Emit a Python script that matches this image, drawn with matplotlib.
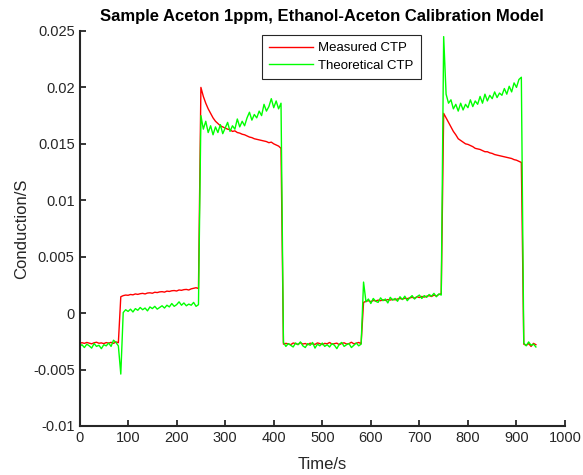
import numpy as np
import matplotlib
matplotlib.use('Agg')
import matplotlib.pyplot as plt

plt.rcParams['font.family'] = ['Liberation Sans', 'DejaVu Sans']

# sample interval in s, values below in units of 1e-3 S
dt = 5

red_low1 = [-2.70, -2.62, -2.68, -2.60, -2.66, -2.72, -2.63, -2.58, -2.67, -2.64,
            -2.70, -2.61, -2.66, -2.59, -2.68, -2.55, -2.62]
green_low1 = [-2.95, -2.80, -3.05, -2.75, -2.90, -3.10, -2.70, -2.95, -2.85, -3.15,
              -2.80, -2.90, -2.65, -2.95, -2.40, -2.60, -2.90]

red_step1 = [1.45, 1.55, 1.60, 1.58, 1.65, 1.62, 1.70, 1.66, 1.72, 1.75,
             1.70, 1.78, 1.80, 1.76, 1.85, 1.82, 1.88, 1.90, 1.86, 1.95,
             1.92, 1.98, 2.00, 1.96, 2.05, 2.02, 2.08, 2.10, 2.05, 2.15,
             2.20, 2.25, 2.18]
green_step1 = [-5.40, 0.05, 0.30, 0.15, 0.35, 0.10, 0.40, 0.25, 0.50, 0.30,
               0.45, 0.20, 0.55, 0.40, 0.60, 0.35, 0.50, 0.65, 0.45, 0.70,
               0.55, 0.85, 0.60, 0.75, 1.00, 0.70, 0.90, 0.65, 0.80, 0.70,
               0.95, 0.60, 0.75]

red_high1 = [20.0, 19.2, 18.6, 18.1, 17.7, 17.3, 17.0, 16.8, 16.6, 16.5,
             16.4, 16.3, 16.25, 16.1, 16.15, 16.0, 15.95, 15.85, 15.8, 15.7,
             15.6, 15.55, 15.45, 15.4, 15.35, 15.3, 15.25, 15.2, 15.1, 15.15,
             15.0, 14.9, 14.8, 14.6]
green_high1 = [17.5, 16.3, 17.0, 16.0, 16.6, 15.8, 16.5, 16.0, 16.7, 15.9,
               16.4, 16.9, 16.1, 16.6, 16.3, 17.2, 16.5, 17.0, 16.6, 17.3,
               17.8, 17.1, 17.6, 17.3, 17.9, 17.5, 18.5, 17.9, 18.3, 19.0,
               18.2, 18.8, 18.1, 18.6]

red_low2 = [-2.75, -2.68, -2.72, -2.80, -2.65, -2.70, -2.78, -2.62, -2.74, -2.69,
            -2.81, -2.66, -2.73, -2.77, -2.64, -2.70, -2.79, -2.68, -2.72, -2.60,
            -2.75, -2.71, -2.66, -2.80, -2.69, -2.63, -2.74, -2.70, -2.58, -2.72,
            -2.67, -2.60, -2.70]
green_low2 = [-2.60, -2.95, -2.70, -2.85, -3.00, -2.65, -2.80, -2.55, -2.90, -3.05,
              -2.70, -2.85, -2.60, -3.10, -2.75, -2.90, -2.65, -2.95, -2.80, -3.00,
              -2.70, -2.85, -3.15, -2.75, -2.60, -2.95, -2.80, -2.70, -3.05, -2.85,
              -2.65, -2.90, -2.75]

red_step2 = [0.95, 1.05, 1.10, 1.02, 1.12, 1.08, 1.15, 1.10, 1.18, 1.12,
             1.20, 1.16, 1.22, 1.18, 1.25, 1.30, 1.24, 1.32, 1.28, 1.35,
             1.40, 1.33, 1.45, 1.38, 1.48, 1.42, 1.50, 1.55, 1.47, 1.60,
             1.52, 1.65, 1.72]
green_step2 = [2.75, 1.00, 1.25, 0.85, 1.30, 1.05, 0.95, 1.35, 1.10, 1.25,
               0.90, 1.40, 1.15, 1.30, 1.05, 1.45, 1.20, 1.50, 1.10, 1.35,
               1.55, 1.25, 1.45, 1.60, 1.30, 1.55, 1.40, 1.65, 1.50, 1.75,
               1.45, 1.70, 1.60]

red_high2 = [17.7, 17.3, 16.9, 16.5, 16.1, 15.8, 15.45, 15.3, 15.15, 15.0,
             14.95, 14.85, 14.75, 14.6, 14.55, 14.5, 14.4, 14.3, 14.3, 14.2,
             14.15, 14.05, 14.0, 13.95, 13.9, 13.85, 13.8, 13.75, 13.7, 13.6,
             13.55, 13.45, 13.35]
green_high2 = [24.5, 19.4, 18.6, 18.9, 18.1, 18.5, 17.9, 18.6, 18.0, 18.5,
               18.2, 18.9, 18.3, 18.8, 18.5, 19.2, 18.6, 19.4, 18.8, 19.3,
               19.0, 19.6, 19.1, 19.5, 19.3, 19.9, 19.4, 20.1, 19.6, 20.4,
               20.0, 20.7, 20.9]

red_low3 = [-2.75, -2.85, -2.70, -2.95, -2.68, -2.80]
green_low3 = [-2.65, -2.90, -2.55, -2.85, -2.75, -3.00]

measured = np.array(red_low1 + red_step1 + red_high1 + red_low2 +
                    red_step2 + red_high2 + red_low3) * 1e-3
theoretical = np.array(green_low1 + green_step1 + green_high1 + green_low2 +
                       green_step2 + green_high2 + green_low3) * 1e-3
t_meas = np.arange(len(measured)) * dt
t_theo = np.arange(len(theoretical)) * dt

fig = plt.figure(figsize=(5.83, 4.75), dpi=100)
ax = fig.add_axes([0.1364, 0.1032, 0.8328, 0.8316])
ax.plot(t_meas, measured, color=(1, 0, 0), linewidth=1.0, label='Measured CTP')
ax.plot(t_theo, theoretical, color=(0, 1, 0), linewidth=1.0, label='Theoretical CTP')

ax.set_xlim(0, 1000)
ax.set_ylim(-0.01, 0.025)
ax.set_xticks(np.arange(0, 1001, 100))
ax.set_yticks([-0.01, -0.005, 0, 0.005, 0.01, 0.015, 0.02, 0.025])
ax.set_yticklabels(['-0.01', '-0.005', '0', '0.005', '0.01', '0.015', '0.02', '0.025'])
ax.tick_params(direction='in', length=4, width=1.3, labelsize=10.5, colors='#262626')
ax.spines['right'].set_visible(False)
ax.spines['top'].set_visible(False)
for side in ['left', 'bottom']:
    ax.spines[side].set_linewidth(1.5)
    ax.spines[side].set_color('#262626')

ax.set_xlabel('Time/s', fontsize=12, color='#262626', labelpad=9)
ax.set_ylabel('Conduction/S', fontsize=12, color='#262626', labelpad=3)
ax.set_title('Sample Aceton 1ppm, Ethanol-Aceton Calibration Model',
             fontsize=12, fontweight='bold', pad=7)

leg = ax.legend(loc='upper left', bbox_to_anchor=(0.376, 0.99), borderaxespad=0,
                fontsize=9.5, fancybox=False, framealpha=1, edgecolor='#262626',
                handlelength=3.3, handletextpad=0.4, borderpad=0.55,
                labelspacing=0.4)
leg.get_frame().set_linewidth(0.8)

plt.savefig('out.png', dpi=100)
